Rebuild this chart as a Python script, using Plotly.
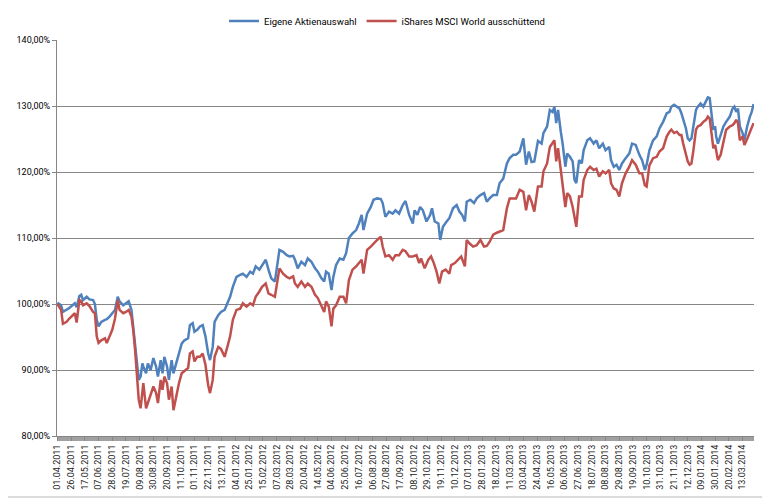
import plotly.graph_objects as go

# Tick labels (every 15th trading day)
tick_labels = ["01.04.2011", "26.04.2011", "17.05.2011", "07.06.2011", "28.06.2011", "19.07.2011",
               "09.08.2011", "30.08.2011", "20.09.2011", "11.10.2011", "01.11.2011", "22.11.2011",
               "13.12.2011", "04.01.2012", "25.01.2012", "15.02.2012", "07.03.2012", "28.03.2012",
               "20.04.2012", "14.05.2012", "04.06.2012", "25.06.2012", "16.07.2012", "06.08.2012",
               "27.08.2012", "17.09.2012", "08.10.2012", "29.10.2012", "19.11.2012", "10.12.2012",
               "07.01.2013", "28.01.2013", "18.02.2013", "11.03.2013", "03.04.2013", "24.04.2013",
               "16.05.2013", "06.06.2013", "27.06.2013", "18.07.2013", "08.08.2013", "29.08.2013",
               "19.09.2013", "10.10.2013", "31.10.2013", "21.11.2013", "12.12.2013", "09.01.2014",
               "30.01.2014", "20.02.2014", "13.03.2014"]
tick_step = 15
n_days = 763

# Eigene Aktienauswahl: trading-day index and value in %
blue_idx = [0, 4, 6, 10, 13, 19, 21, 24, 26, 28, 32, 35, 39, 41, 43, 45, 48, 52, 54, 57, 60, 63, 66, 68, 72, 75, 78, 81, 83, 85, 87, 89, 91, 93, 94, 97, 99, 102, 105, 108, 110, 113, 115, 117, 120, 122, 125, 127, 130, 133, 136, 139, 143, 145, 148, 150, 153, 156, 159, 162, 165, 167, 170, 172, 176, 179, 183, 186, 189, 192, 196, 200, 203, 207, 211, 214, 217, 221, 224, 228, 231, 234, 238, 243, 247, 251, 254, 258, 260, 263, 267, 271, 274, 278, 282, 285, 289, 292, 294, 297, 300, 302, 305, 309, 313, 316, 319, 323, 327, 330, 333, 335, 339, 343, 346, 350, 354, 356, 359, 363, 367, 370, 374, 378, 381, 385, 389, 391, 394, 397, 400, 404, 408, 410, 413, 417, 419, 422, 426, 429, 433, 437, 440, 443, 446, 448, 452, 456, 459, 463, 467, 470, 473, 477, 481, 484, 488, 492, 495, 499, 502, 506, 510, 513, 516, 519, 522, 526, 530, 532, 536, 539, 542, 544, 546, 548, 551, 553, 556, 558, 561, 564, 566, 568, 571, 574, 576, 580, 583, 587, 590, 593, 597, 600, 604, 606, 609, 612, 615, 618, 622, 626, 629, 633, 637, 640, 643, 645, 648, 652, 656, 659, 663, 667, 670, 672, 675, 678, 681, 683, 685, 688, 690, 692, 694, 696, 699, 701, 704, 707, 710, 712, 714, 716, 718, 720, 721, 723, 726, 729, 732, 736, 739, 741, 743, 745, 747, 750, 752, 755, 758, 760, 762]
blue_vals = [100.2, 99.8, 98.8, 99.1, 99.4, 100.1, 99.5, 101.2, 101.4, 100.6, 101.1, 100.7, 100.6, 100.0, 97.6, 96.6, 97.3, 97.6, 97.7, 98.1, 98.6, 99.1, 101.1, 100.4, 99.8, 100.1, 100.4, 99.1, 96.5, 94.0, 90.5, 88.5, 89.0, 91.0, 90.5, 89.5, 91.0, 90.0, 91.8, 90.5, 89.0, 91.5, 89.5, 92.0, 90.5, 88.5, 91.5, 89.5, 91.0, 92.5, 94.0, 94.5, 94.8, 96.8, 97.1, 95.8, 96.1, 96.6, 96.8, 95.1, 92.5, 91.5, 93.5, 97.3, 98.3, 98.8, 99.1, 100.1, 101.1, 102.6, 104.1, 104.4, 104.6, 104.1, 104.9, 104.6, 105.7, 105.2, 105.9, 106.7, 105.2, 103.9, 103.4, 108.2, 107.9, 107.4, 107.2, 107.3, 106.7, 105.4, 106.4, 105.9, 106.9, 106.4, 105.4, 104.9, 103.9, 103.4, 104.9, 104.6, 102.1, 104.1, 105.9, 106.9, 106.7, 107.7, 110.0, 110.7, 111.2, 112.2, 113.5, 111.2, 113.7, 114.7, 115.8, 116.0, 115.9, 115.3, 113.2, 114.0, 113.7, 114.2, 113.7, 115.0, 115.6, 113.5, 112.2, 114.2, 113.5, 114.7, 114.2, 112.5, 113.5, 114.5, 112.5, 112.2, 109.7, 111.7, 112.5, 113.0, 114.5, 115.0, 114.0, 113.5, 112.5, 115.5, 115.8, 115.3, 116.0, 116.5, 116.8, 115.5, 116.0, 116.5, 116.5, 118.3, 119.0, 121.3, 122.1, 122.6, 122.6, 123.1, 125.1, 121.1, 123.1, 121.5, 121.6, 124.7, 124.3, 125.9, 126.9, 129.4, 129.1, 129.9, 127.4, 129.4, 126.1, 124.3, 120.8, 122.8, 122.3, 121.6, 118.8, 118.3, 121.8, 121.3, 123.3, 124.8, 125.1, 124.3, 124.8, 123.6, 124.3, 123.3, 123.8, 121.8, 120.8, 121.1, 120.3, 121.3, 122.1, 122.8, 124.3, 124.1, 122.6, 121.8, 120.3, 121.1, 123.3, 124.8, 125.4, 126.6, 127.6, 128.9, 129.1, 129.9, 130.2, 129.9, 129.6, 128.9, 128.1, 126.6, 125.1, 124.8, 125.1, 126.9, 129.4, 129.9, 130.4, 129.9, 130.9, 131.3, 131.2, 128.9, 126.4, 126.9, 125.4, 124.3, 125.6, 126.9, 127.6, 128.4, 129.6, 129.9, 129.1, 129.6, 126.9, 125.9, 124.8, 126.9, 128.4, 129.1, 130.3]

# iShares MSCI World ausschüttend: trading-day index and value in %
red_idx = [0, 4, 6, 10, 13, 19, 21, 24, 26, 28, 32, 35, 39, 41, 43, 45, 48, 52, 54, 57, 60, 63, 66, 68, 72, 75, 78, 81, 83, 85, 87, 89, 91, 93, 94, 97, 99, 102, 105, 108, 110, 113, 115, 117, 120, 122, 125, 127, 130, 133, 136, 139, 143, 145, 148, 150, 153, 156, 159, 162, 165, 167, 170, 172, 176, 179, 183, 186, 189, 192, 196, 200, 203, 207, 211, 214, 217, 221, 224, 228, 231, 234, 238, 243, 247, 251, 254, 258, 260, 263, 267, 271, 274, 278, 282, 285, 289, 292, 294, 297, 300, 302, 305, 309, 313, 316, 319, 323, 327, 330, 333, 335, 339, 343, 346, 350, 354, 356, 359, 363, 367, 370, 374, 378, 381, 385, 389, 393, 396, 398, 402, 406, 409, 412, 415, 418, 421, 425, 429, 431, 435, 439, 442, 446, 448, 451, 455, 459, 463, 467, 470, 473, 477, 481, 484, 488, 492, 495, 499, 502, 506, 510, 513, 516, 519, 522, 526, 530, 532, 536, 539, 542, 544, 546, 548, 551, 553, 556, 558, 561, 564, 566, 568, 571, 574, 576, 580, 583, 587, 590, 593, 597, 600, 604, 606, 609, 612, 615, 618, 622, 626, 629, 633, 637, 640, 643, 645, 648, 652, 656, 659, 663, 667, 670, 672, 675, 678, 681, 683, 685, 688, 690, 692, 694, 696, 699, 701, 704, 707, 710, 712, 714, 716, 718, 720, 721, 723, 726, 729, 732, 736, 739, 741, 743, 745, 747, 750, 752, 755, 758, 760, 762]
red_vals = [100.0, 99.1, 97.0, 97.3, 97.8, 98.6, 97.2, 100.6, 100.4, 99.8, 100.1, 99.7, 98.8, 98.6, 95.1, 94.1, 94.5, 94.8, 94.1, 95.1, 96.1, 97.8, 100.6, 99.1, 98.6, 98.8, 99.1, 98.1, 96.0, 93.0, 89.0, 85.5, 84.2, 87.2, 88.0, 84.2, 85.0, 86.0, 87.5, 86.5, 85.0, 88.5, 87.0, 89.0, 88.0, 85.5, 87.5, 83.9, 86.0, 88.0, 89.5, 89.8, 90.3, 92.5, 92.8, 91.3, 92.0, 92.0, 92.5, 90.8, 87.7, 86.5, 88.5, 92.0, 93.5, 93.2, 92.0, 93.5, 95.1, 97.6, 99.1, 99.3, 100.1, 99.6, 100.1, 99.8, 101.1, 101.9, 102.6, 103.1, 101.6, 101.4, 101.1, 105.4, 104.6, 104.1, 103.9, 104.2, 103.1, 102.6, 103.4, 102.6, 103.1, 102.6, 101.4, 100.9, 99.8, 98.8, 100.4, 99.6, 96.6, 99.3, 99.8, 101.1, 101.1, 100.1, 103.6, 105.2, 105.7, 106.2, 106.7, 104.6, 108.2, 108.7, 109.2, 109.7, 110.2, 108.7, 107.2, 107.4, 106.7, 107.4, 107.4, 108.2, 108.0, 107.2, 107.2, 107.4, 106.2, 106.9, 105.4, 106.7, 107.2, 106.2, 104.9, 103.1, 104.9, 105.2, 104.6, 105.9, 106.2, 106.7, 107.2, 105.7, 109.7, 109.2, 108.7, 108.9, 109.7, 108.7, 108.8, 109.4, 110.5, 110.8, 111.0, 111.2, 114.5, 116.0, 116.0, 116.0, 117.3, 117.0, 114.2, 116.5, 115.5, 114.0, 117.8, 117.8, 120.1, 121.3, 123.8, 124.3, 124.8, 121.6, 123.6, 120.3, 117.8, 114.7, 116.8, 116.3, 114.7, 113.2, 111.7, 116.3, 116.3, 118.8, 120.3, 120.8, 120.3, 120.5, 119.3, 120.1, 119.8, 120.3, 118.3, 117.5, 117.3, 116.3, 118.3, 119.8, 120.8, 121.8, 121.1, 119.8, 119.8, 118.0, 117.8, 121.0, 122.1, 122.3, 123.1, 123.6, 125.4, 126.1, 126.4, 125.9, 126.1, 125.6, 125.6, 124.3, 122.6, 121.6, 121.1, 121.3, 123.1, 126.4, 126.9, 127.1, 127.6, 127.9, 128.4, 128.1, 125.9, 123.6, 124.1, 123.3, 121.8, 122.6, 124.8, 126.4, 126.9, 127.1, 127.4, 127.9, 127.4, 124.8, 125.4, 124.1, 125.0, 126.1, 126.9, 127.4]

BLUE = "#4F81BD"
RED = "#C0504D"
FONT = "Roboto"

# Page offset of the figure (default body margin) and target pixel layout
OFF = 8
W, H = 770 - OFF, 501 - OFF
ML, MT = 57 - OFF, 40 - OFF
MR = W - (754 - OFF)
MB = H - (436 - OFF)
PW, PH = W - ML - MR, H - MT - MB


def px_x(p):
    return (p - OFF - ML) / PW


def px_y(p):
    return 1 - (p - OFF - MT) / PH


fig = go.Figure()
fig.add_trace(go.Scatter(x=blue_idx, y=blue_vals, mode="lines", name="Eigene Aktienauswahl",
                         line=dict(color=BLUE, width=2.5)))
fig.add_trace(go.Scatter(x=red_idx, y=red_vals, mode="lines", name="iShares MSCI World ausschüttend",
                         line=dict(color=RED, width=2.5)))

tickvals = [i * tick_step for i in range(len(tick_labels))]

fig.update_layout(
    width=W, height=H,
    margin=dict(l=ML, r=MR, t=MT, b=MB, autoexpand=False),
    paper_bgcolor="white", plot_bgcolor="white",
    separators=",.",
    font=dict(family=FONT, size=9, color="#000000"),
    showlegend=True,
    legend=dict(orientation="h", x=px_x(387), y=px_y(21),
                xanchor="center", yanchor="middle", itemwidth=30,
                font=dict(family=FONT, size=9.5, color="#000000")),
    xaxis=dict(range=[-0.5, n_days - 0.5], tickmode="array", tickvals=tickvals, ticktext=tick_labels,
               tickangle=-90, showgrid=False, zeroline=False, showline=True, linecolor="#868686",
               linewidth=1, ticks="outside", ticklen=4, tickcolor="#868686", automargin=False,
               tickfont=dict(family=FONT, size=9, color="#222222"),
               minor=dict(tickmode="linear", tick0=0, dtick=1, ticks="outside", ticklen=4,
                          tickcolor="#A0A0A0", showgrid=False)),
    yaxis=dict(range=[80, 140], dtick=10, tick0=80, tickformat=".2f", ticksuffix="%",
               showgrid=True, gridcolor="#868686", gridwidth=1, zeroline=False,
               showline=True, linecolor="#868686", linewidth=1, automargin=False,
               ticks="outside", ticklen=4, tickcolor="#868686",
               tickfont=dict(family=FONT, size=9, color="#000000")),
    shapes=[dict(type="rect", xref="paper", yref="paper", x0=px_x(7), x1=px_x(763), y0=px_y(497), y1=px_y(6),
                 line=dict(color="#B8B8B8", width=1), fillcolor="rgba(0,0,0,0)", layer="above")],
)

fig.write_html("out.html")
